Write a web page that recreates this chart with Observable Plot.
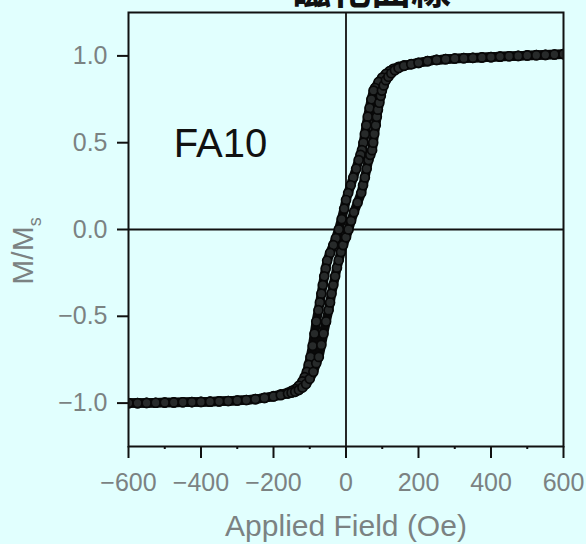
<!DOCTYPE html>
<html><head><meta charset="utf-8">
<script src="https://cdn.jsdelivr.net/npm/d3@7"></script>
<script src="https://cdn.jsdelivr.net/npm/@observablehq/plot@0.6"></script>
<style>
html,body{margin:0;padding:0;background:#e1fffe;overflow:hidden}
#wrap{position:relative;width:586px;height:544px}
#title{position:absolute;left:291px;top:-33px;font-weight:bold;font-size:40px;font-family:"Noto Sans CJK JP","Noto Sans CJK SC",sans-serif;color:#111;white-space:nowrap;line-height:1}
</style></head>
<body><div id="wrap"><div id="title"></div><div id="chart"></div></div>
<script>
const titleText = "磁化曲線";
const sampleName = "FA10";
const xLabel = "Applied Field (Oe)";
const xTicks = [-600, -400, -200, 0, 200, 400, 600];
const xMinorTicks = [-500, -300, -100, 100, 300, 500];
const yTicks = [-1.0, -0.5, 0.0, 0.5, 1.0];

// Descending branch (field +600 -> -600)
const descH = [600,575,550,525,500,475,450,425,400,375,350,325,300,275,250,225,200,180,160,145,130,120,110,100,90,80,76,70,65,60,56,52,48,44,40,35,28,20,13,6,0,-5,-12,-20,-28,-35,-44,-52,-56,-60,-64,-68,-72,-76,-82,-87,-92,-98,-103,-108,-114,-120,-130,-140,-150,-160,-180,-200,-225,-250,-275,-300,-325,-350,-375,-400,-425,-450,-475,-500,-525,-550,-575,-600];
const descM = [1.01,1.008,1.006,1.004,1.003,1.0,0.998,0.996,0.993,0.991,0.989,0.987,0.985,0.981,0.977,0.97,0.96,0.953,0.945,0.937,0.925,0.912,0.896,0.875,0.85,0.815,0.80,0.75,0.70,0.65,0.60,0.55,0.50,0.457,0.43,0.40,0.35,0.30,0.255,0.21,0.17,0.12,0.06,0.0,-0.05,-0.09,-0.135,-0.18,-0.225,-0.27,-0.32,-0.37,-0.42,-0.465,-0.53,-0.60,-0.67,-0.734,-0.78,-0.82,-0.85,-0.875,-0.90,-0.92,-0.93,-0.94,-0.95,-0.96,-0.97,-0.977,-0.982,-0.985,-0.988,-0.99,-0.992,-0.993,-0.994,-0.995,-0.996,-0.997,-0.998,-0.999,-1.0,-1.0];

// Ascending branch (field -600 -> +600)
const ascH = [-600,-575,-550,-525,-500,-475,-450,-425,-400,-375,-350,-325,-300,-275,-250,-225,-200,-180,-160,-150,-140,-130,-120,-110,-100,-90,-82,-75,-68,-62,-55,-48,-44,-40,-35,-30,-25,-20,-14,-8,0,7,14,22,32,42,47,52,57,62,67,72,75,78,82,85,88,92,96,99,104,110,117,125,135,145,160,180,200,225,250,275,300,325,350,375,400,425,450,475,500,525,550,575,600];
const ascM = [-1.0,-1.0,-0.999,-0.998,-0.997,-0.996,-0.995,-0.994,-0.993,-0.992,-0.99,-0.988,-0.985,-0.982,-0.977,-0.97,-0.962,-0.954,-0.945,-0.94,-0.935,-0.925,-0.91,-0.89,-0.86,-0.82,-0.77,-0.734,-0.665,-0.60,-0.53,-0.465,-0.42,-0.37,-0.32,-0.27,-0.22,-0.177,-0.13,-0.09,-0.045,0.0,0.05,0.10,0.155,0.21,0.255,0.30,0.35,0.40,0.43,0.457,0.50,0.55,0.60,0.649,0.69,0.73,0.77,0.80,0.83,0.86,0.88,0.90,0.918,0.93,0.943,0.952,0.96,0.97,0.977,0.981,0.985,0.987,0.989,0.991,0.993,0.996,0.998,1.0,1.003,1.004,1.006,1.008,1.01];

const labelPos = {H: -475, M: 0.493};

const data = [
  ...descH.map((h, i) => ({H: h, M: descM[i], branch: "desc"})),
  ...ascH.map((h, i) => ({H: h, M: ascM[i], branch: "asc"}))
];

document.getElementById("title").textContent = titleText;

const grey = "#7b8282";
const fmt = d => d3.format(".1f")(d).replace("-", "\u2212");
const fmtX = d => String(d).replace("-", "\u2212");

const chart = Plot.plot({
  width: 586,
  height: 544,
  marginLeft: 128,
  marginRight: 23,
  marginTop: 12,
  marginBottom: 98,
  style: {background: "transparent", fontFamily: "Liberation Sans, Arial, sans-serif"},
  x: {domain: [-600, 600]},
  y: {domain: [-1.25, 1.25]},
  marks: [
    Plot.ruleX([0], {stroke: "#111", strokeWidth: 1.8}),
    Plot.ruleY([0], {stroke: "#111", strokeWidth: 1.8}),
    Plot.line(data, {x: "H", y: "M", z: "branch", stroke: "#0a0a0a", strokeWidth: 9.5, clip: true}),
    Plot.dot(data, {x: "H", y: "M", r: 4.5, stroke: "#080808", strokeWidth: 1.7, fill: "#272a2a", clip: true}),
    Plot.frame({stroke: "#111", strokeWidth: 2}),
    Plot.axisX({ticks: xMinorTicks, tickSize: 3, text: null, label: null, stroke: "#111", strokeWidth: 2}),
    Plot.axisX({ticks: xTicks, tickSize: 12, tickPadding: 15, tickFormat: fmtX, fontSize: 25, fill: grey, stroke: "#111", strokeWidth: 2, label: null}),
    Plot.axisY({ticks: yTicks, tickSize: 11, tickPadding: 10, tickFormat: fmt, fontSize: 25, fill: grey, stroke: "#111", strokeWidth: 2, label: null}),
    Plot.text([xLabel], {frameAnchor: "bottom", dy: 80, fontSize: 30, fill: grey, lineAnchor: "middle"}),
    Plot.text([sampleName], {x: () => labelPos.H, y: () => labelPos.M, textAnchor: "start", lineAnchor: "middle", fontSize: 40, fill: "#111"})
  ]
});

const svg = d3.select(chart);
const yl = svg.append("text")
  .attr("transform", "translate(33,251) rotate(-90)")
  .attr("text-anchor", "middle")
  .attr("font-size", 30)
  .attr("fill", grey);
yl.append("tspan").text("M/M");
yl.append("tspan").attr("font-size", 18).attr("dy", 8).text("s");

document.getElementById("chart").appendChild(chart);
</script>
</body></html>
